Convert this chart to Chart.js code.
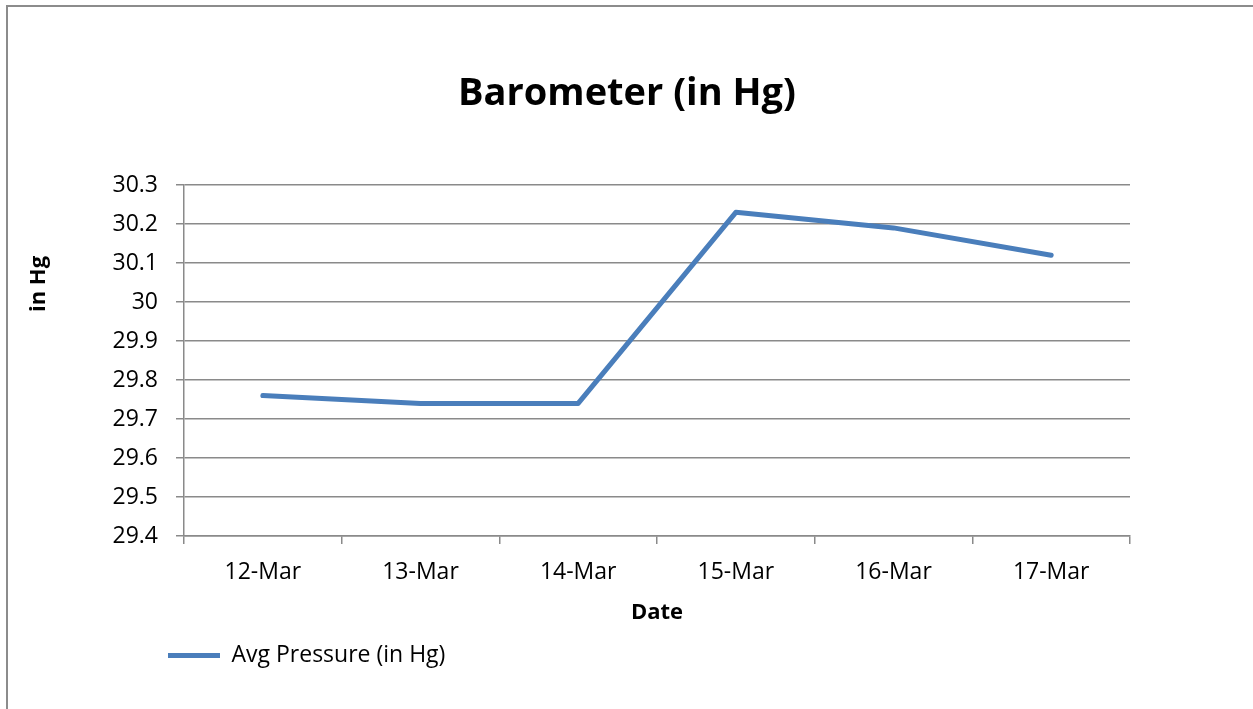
<!DOCTYPE html>
<html>
<head>
<meta charset="utf-8">
<script src="https://cdn.jsdelivr.net/npm/chart.js@4"></script>
<style>
    html, body { margin: 0; padding: 0; background: #fff; overflow: hidden; }
    #frame { position: absolute; left: 6px; top: 5px; width: 2000px; height: 2000px; border: 2px solid #8c8c8c; }
    #wrap { position: absolute; left: 0; top: 0; width: 1253px; height: 709px; }
</style>
</head>
<body>
<div id="frame"></div>
<div id="wrap"><canvas id="chart"></canvas></div>
<script>
// Data
var dates = ['12-Mar', '13-Mar', '14-Mar', '15-Mar', '16-Mar', '17-Mar'];
var avgPressure = [29.76, 29.74, 29.74, 30.23, 30.19, 30.12];
var yTicks = [29.4, 29.5, 29.6, 29.7, 29.8, 29.9, 30, 30.1, 30.2, 30.3];

var FONT = '"Open Sans", "Noto Sans", sans-serif';
var GRID = '#8a8a8a';

// Title, axis titles placed like the original (Excel) layout
var decor = {
    id: 'decor',
    afterDraw: function (chart) {
        var ctx = chart.ctx;
        var area = chart.chartArea;
        ctx.save();
        ctx.fillStyle = '#000';
        ctx.textAlign = 'center';
        ctx.textBaseline = 'alphabetic';
        ctx.font = 'bold 38px ' + FONT;
        ctx.fillText('Barometer (in Hg)', 627, 105);

        ctx.textBaseline = 'middle';
        ctx.font = 'bold 22px ' + FONT;
        ctx.fillText('Date', (area.left + area.right) / 2, 613);

        ctx.translate(39, 284);
        ctx.rotate(-Math.PI / 2);
        ctx.fillText('in Hg', 0, 0);
        ctx.restore();
    }
};

Chart.defaults.font.family = FONT;
Chart.defaults.color = '#000';

new Chart(document.getElementById('chart'), {
    type: 'line',
    data: {
        labels: dates,
        datasets: [{
            label: 'Avg Pressure (in Hg)',
            data: avgPressure,
            borderColor: '#4a7ebb',
            backgroundColor: '#4a7ebb',
            borderWidth: 5,
            borderCapStyle: 'round',
            borderJoinStyle: 'round',
            pointRadius: 0,
            pointHoverRadius: 0,
            tension: 0,
            fill: false
        }]
    },
    options: {
        responsive: true,
        maintainAspectRatio: false,
        animation: false,
        layout: { padding: { left: 110, right: 123, top: 185, bottom: 32 } },
        plugins: {
            title: { display: false },
            tooltip: { enabled: false },
            legend: {
                position: 'bottom',
                align: 'start',
                labels: {
                    usePointStyle: true,
                    pointStyle: 'line',
                    pointStyleWidth: 52,
                    padding: 58,
                    font: { size: 23 },
                    color: '#000'
                }
            }
        },
        scales: {
            x: {
                offset: true,
                afterFit: function (s) { s.height = 50; },
                grid: { offset: true, drawOnChartArea: false, drawTicks: true, tickLength: 8, color: GRID, lineWidth: 1.5 },
                border: { display: true, color: GRID, width: 1.5 },
                ticks: { padding: 15, font: { size: 23 }, color: '#000', maxRotation: 0 }
            },
            y: {
                min: 29.4,
                max: 30.3,
                afterFit: function (s) { s.width = 74; },
                afterBuildTicks: function (s) { s.ticks = yTicks.map(function (v) { return { value: v }; }); },
                grid: { drawTicks: true, tickLength: 8, color: GRID, lineWidth: 1.5 },
                border: { display: true, color: GRID, width: 1.5 },
                ticks: {
                    padding: 18,
                    font: { size: 23 },
                    color: '#000',
                    callback: function (v) { return String(Number(v.toFixed(1))); }
                }
            }
        }
    },
    plugins: [decor]
});
</script>
</body>
</html>
